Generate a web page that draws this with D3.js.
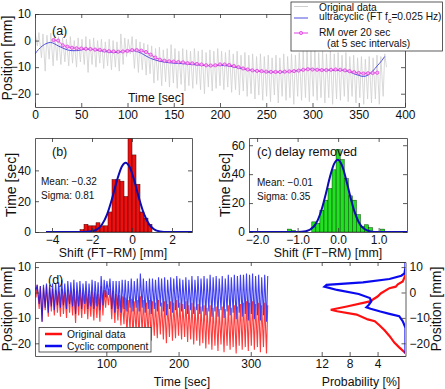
<!DOCTYPE html>
<html><head><meta charset="utf-8">
<script src="https://cdn.jsdelivr.net/npm/d3@7"></script>
<style>
body{margin:0;background:#fff;}
text{font-family:"Liberation Sans",Arial,Helvetica,sans-serif;fill:#111;}
</style></head><body>
<svg id="c" width="445" height="389"></svg>
<script>
// ---------- DATA ----------
// breathing trace: alternating peak / trough times [sec] and positions [mm]
const origT = [0.3,2.6,4.2,7.0,8.6,11.0,12.9,15.3,17.1,19.6,21.4,23.8,25.5,28.0,29.8,32.3,34.0,36.5,38.2,40.6,
42.4,44.9,46.6,49.1,50.8,53.3,55.0,57.4,59.2,61.7,63.4,65.9,67.6,70.1,71.8,74.3,76.0,78.5,80.2,82.7,
84.4,86.9,88.6,91.1,92.8,95.3,97.0,99.0,100.8,103.0,105.0,107.5,109.3,111.8,113.5,116.0,117.7,120.2,121.9,124.4,
126.1,128.6,130.3,132.8,134.5,137.0,138.7,141.2,142.9,145.4,147.1,149.6,151.3,153.8,155.5,158.0,159.7,162.2,163.9,166.4,
168.1,170.6,172.3,174.8,176.5,179.0,180.7,183.2,184.9,187.4,189.1,191.6,193.3,195.8,197.5,200.0,201.7,204.2,205.9,208.4,
210.1,212.6,214.3,216.8,218.5,221.0,222.7,225.2,226.9,229.4,231.1,233.6,235.3,237.8,239.5,242.0,243.7,246.2,247.9,250.4,
252.1,254.6,256.3,258.8,260.5,263.0,264.7,267.2,268.9,271.4,273.1,275.6,277.3,279.8,281.5,284.0,285.7,288.2,289.9,292.4,
294.1,296.6,298.3,300.8,302.5,305.0,306.7,309.2,310.9,313.4,315.1,317.6,319.3,321.8,323.5,326.0,327.7,330.2,331.9,334.4,
336.1,338.6,340.3,342.8,344.5,347.0,348.7,351.2,352.9,355.4,357.1,359.6,361.3,363.8,365.5,368.0,369.7,372.2,373.9,376.4,
378.1,380.0];
const origV = [2.5,-2.0,3.0,-6.5,2.5,-11.5,2.0,-7.0,2.8,-9.5,2.0,-7.5,1.5,-9.0,1.0,-8.0,0.5,-9.5,1.5,-8.5,
0.0,-10.0,1.0,-8.0,0.5,-9.0,1.5,-12.0,0.5,-9.0,1.0,-10.0,0.0,-8.5,0.5,-10.5,-0.5,-9.5,0.5,-11.0,
0.0,-10.0,-0.5,-11.5,2.5,-9.0,1.0,-6.0,0.5,-5.0,1.5,-10.5,0.5,-12.0,-0.5,-11.0,-1.0,-13.0,-1.5,-12.5,
-2.0,-16.0,-3.0,-15.0,-2.5,-17.0,-3.5,-15.5,-3.0,-17.5,-1.5,-16.0,-3.0,-18.0,-4.0,-16.5,-3.0,-19.0,-3.5,-17.0,
-4.0,-18.0,-3.0,-16.5,-4.0,-18.5,-3.5,-20.0,-4.5,-17.5,-3.5,-19.0,-4.0,-18.0,-3.0,-17.0,-4.0,-18.5,-4.5,-17.5,
-3.5,-19.5,-5.0,-18.5,-4.0,-20.5,-5.5,-19.0,-4.5,-21.0,-5.5,-20.0,-5.0,-22.0,-6.0,-20.5,-5.0,-22.5,-6.0,-21.0,
-5.5,-23.0,-6.5,-20.5,-5.5,-23.5,-6.5,-21.0,-5.0,-22.5,-6.0,-21.5,-5.0,-24.0,-5.5,-21.0,-4.5,-22.5,-4.0,-21.5,
-3.5,-23.0,-4.0,-21.0,-3.5,-22.5,-4.5,-21.5,-4.0,-23.5,-5.0,-21.5,-4.0,-24.0,-5.0,-22.0,-4.5,-22.5,-5.5,-21.0,
-4.5,-23.0,-6.0,-21.0,-5.5,-23.5,-6.5,-21.5,-6.0,-24.0,-7.0,-22.0,-6.0,-23.5,-6.5,-22.0,-5.5,-24.0,-6.0,-21.0,
-5.0,-10.0];
// cyclic component (same times, up to 324 s)
const cycV = [2.5,1.0,3.0,-4.5,2.5,-11.5,3.0,-6.0,3.5,-8.0,3.0,-5.5,3.5,-7.0,3.5,-5.0,4.0,-6.0,5.0,-5.0,
3.5,-6.5,4.5,-4.5,4.0,-5.5,5.0,-8.5,4.0,-5.5,4.5,-6.5,3.5,-4.5,4.5,-6.5,3.5,-5.5,5.0,-6.5,
4.5,-5.5,4.0,-7.0,6.5,-5.0,5.0,-2.0,4.5,-1.0,5.5,-6.5,4.5,-8.0,4.5,-6.5,4.5,-8.0,5.0,-6.5,
5.0,-7.5,4.5,-6.0,5.5,-7.5,4.5,-6.0,5.5,-7.5,7.5,-6.0,5.5,-8.0,4.5,-6.5,5.5,-8.5,5.5,-6.5,
5.0,-7.5,6.0,-5.5,5.5,-7.5,6.0,-9.0,5.0,-6.5,6.0,-8.0,5.5,-7.0,6.5,-6.0,5.5,-7.5,5.0,-6.5,
6.0,-8.5,5.0,-7.0,6.5,-8.5,5.0,-7.0,6.5,-8.5,5.5,-7.5,6.5,-9.0,5.5,-7.5,7.0,-9.5,6.0,-7.5,
6.5,-9.5,5.5,-7.0,6.5,-10.0,5.5,-7.5,7.0,-9.0,6.0,-8.0,7.0,-10.5,6.5,-8.0,7.0,-9.5,7.0,-8.5,
7.5,-11.0,7.0,-8.5,7.5,-10.5,6.5,-9.0,7.0,-11.0,6.0,-9.0,7.0,-11.5,6.5];
// ultracyclic (FT low-pass) trend
const ucT = [0,4,8,13,17,21,25,30,35,40,45,50,55,60,65,70,75,80,85,90,95,100,105,110,115,120,125,130,135,140,
150,160,170,180,190,200,210,220,230,240,250,260,270,280,290,295,300,310,320,330,340,345,350,355,360,365,370,375,378];
const ucV = [-5,-3.3,-2,-1,-0.7,-1.2,-2,-2.8,-3.5,-3.8,-3.8,-3.5,-3.3,-3.3,-3.5,-3.8,-4.1,-4.3,-4.5,-4.4,
-4.1,-3.9,-3.8,-4.1,-4.8,-5.8,-6.7,-7.3,-7.8,-8.1,-8.5,-8.7,-9.0,-9.3,-9.5,-9.3,-9.6,-10.3,-11.0,-11.5,
-11.8,-11.9,-11.8,-11.5,-11,-10.8,-10.8,-11,-11.2,-11.2,-11.8,-12.5,-13.1,-13.5,-13,-11.5,-9.5,-7.5,-6];
// running mean over 20 s at 5 s intervals
const rmT = [20,25,30,35,40,45,50,55,60,65,70,75,80,85,90,95,100,105,110,115,120,125,130,135,140,145,150,155,160,165,
170,175,180,185,190,195,200,205,210,215,220,225,230,235,240,245,250,255,260,265,270,275,280,285,290,295,300,305,310,315,
320,325,330,335,340,345,350,355,360,365,370];
const rmV = [0.2,0.0,-1.8,-2.3,-2.7,-2.9,-3.0,-3.1,-3.2,-3.4,-3.5,-3.8,-4.0,-4.1,-4.2,-4.1,-3.9,-3.6,-3.6,-3.8,
-4.3,-5.3,-6.4,-7.2,-7.6,-7.8,-7.9,-8.1,-8.2,-8.5,-8.6,-8.8,-9.0,-9.3,-9.4,-9.3,-9.0,-9.0,-9.2,-9.6,
-10.0,-10.5,-10.9,-11.2,-11.4,-11.5,-11.7,-11.8,-11.8,-11.8,-11.7,-11.6,-11.5,-11.3,-11.0,-10.8,-10.9,-11.0,-11.1,-11.1,
-11.0,-10.9,-11.0,-11.2,-11.5,-11.9,-12.2,-12.4,-12.3,-12.2,-12.1];
// (b) histogram of shift FT-RM
const binWB = 0.2;
const binCB = [-2.5,-2.3,-2.1,-1.9,-1.7,-1.5,-1.3,-1.1,-0.9,-0.7,-0.5,-0.3,-0.1,0.1,0.3,0.5,0.7,0.9];
const cntB  = [1.5,5,4,4,6,4,4,13,34,34,33,23,62,50,31,13,9,5];
const fitBX = [-4.3,-2.5,-2.0,-1.75,-1.5,-1.25,-1.0,-0.75,-0.5,-0.32,-0.1,0.1,0.35,0.6,0.85,1.1,1.4,1.8,3.0];
const fitBY = [0,0.02,0.5,1.7,4.9,11.3,21.5,33.5,42.7,45,41.7,34,22,11.7,5.1,1.8,0.4,0.03,0];
// (c) histogram, delay removed
const binWC = 0.1;
const binCC = [-1.2,-1.1,-0.6,-0.5,-0.4,-0.3,-0.2,-0.1,0,0.1,0.2,0.3,0.4,0.5,0.6,0.7,0.8,1.1];
const cntC  = [2,1,7,6,15,22,30,43,57,50,37,25,22,12,4,5,3,2];
const fitCX = [-2.2,-1.0,-0.8,-0.6,-0.5,-0.4,-0.3,-0.2,-0.1,-0.01,0.1,0.2,0.3,0.4,0.5,0.6,0.8,1.0,1.7];
const fitCY = [0,0,0.5,3.8,8.4,16.2,26.8,38.3,47.1,50,45.7,36,24.5,14.4,7.3,3.2,0.4,0,0];
// (d) position distributions
const pdBluePos = [12,10,7.5,6.6,5.3,4.0,3.0,2.3,1.0,-0.6,-2.2,-3.5,-5.0,-5.8,-6.4,-7.5,-8.4,-9.3,-11.3,-13.9,-18,-24];
const pdBlueP   = [0,0,0.15,0.6,2.3,6.1,11.3,11.6,9.8,6.7,5.1,4.9,5.3,5.6,5.0,3.6,2.3,0.9,0.4,0,0,0];
const pdRedPos  = [7.5,6.9,4.3,3.2,2.3,1.7,-0.3,-1.6,-3.5,-5.5,-6.8,-7.4,-8.7,-10.6,-11.3,-13,-14.9,-17.1,-19.7,-21.6,-23.6,-24];
const pdRedP    = [0,0,0.4,1.1,1.4,2.3,3.5,4,5.1,8.4,10.7,9.8,7,5.4,4.4,3.7,3,2.3,1.6,0.9,0.1,0];
// tick values
const ticksAX = [0,50,100,150,200,250,300,350,400], ticksAY = [-20,-10,0,10];
const ticksBX = [-4,-2,0,2], ticksBY = [0,20,40];
const ticksCX = [-2,-1,0,1], ticksCY = [0,20,40,60];
const ticksDX = [100,200,300], ticksDY = [-20,-10,0,10], ticksPX = [12,8,4];

// ---------- DRAW ----------
const svg = d3.select('#c');
const FR = '#333';
const TFS = 12;
let clipId = 0;
function clip(x0,y0,x1,y1){
  const id='cl'+(clipId++);
  svg.append('clipPath').attr('id',id).append('rect').attr('x',x0).attr('y',y0).attr('width',x1-x0).attr('height',y1-y0);
  return 'url(#'+id+')';
}
function styleAxis(sel){
  sel.selectAll('path.domain').attr('stroke',FR).attr('stroke-width',0.8);
  sel.selectAll('.tick line').attr('stroke',FR).attr('stroke-width',0.8);
  sel.selectAll('.tick text').attr('font-size',TFS).attr('fill','#111')
     .attr('font-family','"Liberation Sans",Arial,sans-serif');
}
function frame(x,y,xt,yt,o){
  o=o||{};
  const [l,r]=d3.extent(x.range()), [t,b]=d3.extent(y.range());
  const g=svg.append('g');
  g.append('g').attr('transform',`translate(0,${b})`).call(d3.axisBottom(x).tickValues(xt).tickSizeInner(-4).tickSizeOuter(0).tickPadding(3.5)).call(styleAxis);
  g.append('g').attr('transform',`translate(0,${t})`).call(d3.axisTop(x).tickValues(xt).tickSizeInner(-4).tickSizeOuter(0).tickFormat('')).call(styleAxis);
  g.append('g').attr('transform',`translate(${l},0)`).call(d3.axisLeft(y).tickValues(yt).tickSizeInner(-4).tickSizeOuter(0).tickPadding(4)).call(styleAxis);
  if(!o.noRight) g.append('g').attr('transform',`translate(${r},0)`).call(d3.axisRight(y).tickValues(yt).tickSizeInner(-4).tickSizeOuter(0).tickFormat('')).call(styleAxis);
  return g;
}
function txt(x,y,s,fs,anchor,rot){
  const t=svg.append('text').attr('x',x).attr('y',y).attr('font-size',fs).attr('text-anchor',anchor||'start').text(s);
  if(rot) t.attr('transform',`rotate(-90,${x},${y})`);
  return t;
}

// ----- panel (a)
const xA=d3.scaleLinear().domain([0,400]).range([35,405]);
const yA=d3.scaleLinear().domain([-25,10]).range([107,14]);
const gA=svg.append('g').attr('clip-path',clip(35,14,405,107));
gA.append('path').datum(origT.map((t,i)=>[t,origV[i]]))
  .attr('d',d3.line().x(d=>xA(d[0])).y(d=>yA(d[1]))).attr('fill','none').attr('stroke','#cfcfcf').attr('stroke-width',0.8);
gA.append('path').datum(ucT.map((t,i)=>[t,ucV[i]]))
  .attr('d',d3.line().curve(d3.curveMonotoneX).x(d=>xA(d[0])).y(d=>yA(d[1]))).attr('fill','none').attr('stroke','#4f4fe0').attr('stroke-width',1);
gA.append('path').datum(rmT.map((t,i)=>[t,rmV[i]]))
  .attr('d',d3.line().x(d=>xA(d[0])).y(d=>yA(d[1]))).attr('fill','none').attr('stroke','#e040e0').attr('stroke-width',1);
gA.selectAll('circle.rm').data(rmT.map((t,i)=>[t,rmV[i]])).enter().append('circle')
  .attr('cx',d=>xA(d[0])).attr('cy',d=>yA(d[1])).attr('r',1.6).attr('fill','#f6b0f6').attr('stroke','#e040e0').attr('stroke-width',0.8);
frame(xA,yA,ticksAX,ticksAY);
txt(52,35,'(a)',12.5);
txt(128,101.5,'Time [sec]',12.3);
txt(12,58,'Position [mm]',14,'middle',true);
// legend (a)
svg.append('rect').attr('x',291).attr('y',2).attr('width',151.5).attr('height',49).attr('fill','#fff').attr('stroke',FR).attr('stroke-width',0.8);
svg.append('line').attr('x1',294).attr('x2',308).attr('y1',6.5).attr('y2',6.5).attr('stroke','#cfcfcf').attr('stroke-width',1);
svg.append('line').attr('x1',294).attr('x2',308).attr('y1',18).attr('y2',18).attr('stroke','#4f4fe0').attr('stroke-width',1);
svg.append('line').attr('x1',294).attr('x2',308).attr('y1',33).attr('y2',33).attr('stroke','#e040e0').attr('stroke-width',1);
svg.append('circle').attr('cx',301).attr('cy',33).attr('r',1.6).attr('fill','#f6b0f6').attr('stroke','#e040e0').attr('stroke-width',0.8);
txt(319,10.5,'Original data',10.2);
const ul=txt(319,20,'ultracyclic (FT f',10.2);
ul.append('tspan').attr('dy',2.5).attr('font-size',7).text('c');
ul.append('tspan').attr('dy',-2.5).text('=0.025 Hz)');
txt(319,36,'RM over 20 sec',10.2);
txt(327,46.5,'(at 5 sec intervals)',10.2);

// ----- panel (b)
const xB=d3.scaleLinear().domain([-4.85,3]).range([35,192]);
const yB=d3.scaleLinear().domain([0,61]).range([232,138]);
const gB=svg.append('g').attr('clip-path',clip(35,138,192,232));
gB.selectAll('rect').data(binCB.map((c,i)=>[c,cntB[i]])).enter().append('rect')
  .attr('x',d=>xB(d[0]-binWB/2)).attr('width',d=>xB(d[0]+binWB/2)-xB(d[0]-binWB/2))
  .attr('y',d=>yB(d[1])).attr('height',d=>yB(0)-yB(d[1]))
  .attr('fill','#ee1010').attr('stroke','#400000').attr('stroke-width',0.5);
gB.append('path').datum(fitBX.map((x,i)=>[x,fitBY[i]]))
  .attr('d',d3.line().curve(d3.curveMonotoneX).x(d=>xB(d[0])).y(d=>yB(d[1]))).attr('fill','none').attr('stroke','#0c0cb0').attr('stroke-width',2);
frame(xB,yB,ticksBX,ticksBY);
txt(52,156,'(b)',12.5);
txt(41,185,'Mean:  \u22120.32',10);
txt(41,199,'Sigma: 0.81',10);
txt(113,256.5,'Shift (FT\u2212RM) [mm]',12.3,'middle');
txt(15.5,185,'Time [sec]',14,'middle',true);

// ----- panel (c)
const xC=d3.scaleLinear().domain([-2.2,1.7]).range([249,407]);
const yC=d3.scaleLinear().domain([0,65]).range([232,138]);
const gC=svg.append('g').attr('clip-path',clip(249,138,407,232));
gC.selectAll('rect').data(binCC.map((c,i)=>[c,cntC[i]])).enter().append('rect')
  .attr('x',d=>xC(d[0]-binWC/2)).attr('width',d=>xC(d[0]+binWC/2)-xC(d[0]-binWC/2))
  .attr('y',d=>yC(d[1])).attr('height',d=>yC(0)-yC(d[1]))
  .attr('fill','#22e022').attr('stroke','#004000').attr('stroke-width',0.5);
gC.append('path').datum(fitCX.map((x,i)=>[x,fitCY[i]]))
  .attr('d',d3.line().curve(d3.curveMonotoneX).x(d=>xC(d[0])).y(d=>yC(d[1]))).attr('fill','none').attr('stroke','#0c0cb0').attr('stroke-width',2);
frame(xC,yC,ticksCX,ticksCY);
txt(257,156,'(c)  delay removed',12.5);
txt(257,186,'Mean:  \u22120.01',10);
txt(257,199.5,'Sigma: 0.35',10);
txt(328,256.5,'Shift (FT\u2212RM) [mm]',12.3,'middle');
txt(230,185,'Time [sec]',14,'middle',true);

// ----- panel (d)
const xD=d3.scaleLinear().domain([1.2,513.6]).range([35,405]);
const yD=d3.scaleLinear().domain([-25,12]).range([356,262]);
const xP=d3.scaleLinear().domain([0,12]).range([405.5,321.7]);
const gD=svg.append('g').attr('clip-path',clip(35,262,405,356));
const nD=cycV.length;
gD.append('path').datum(d3.range(nD).map(i=>[origT[i],origV[i]]))
  .attr('d',d3.line().x(d=>xD(d[0])).y(d=>yD(d[1]))).attr('fill','none').attr('stroke','#ff1a1a').attr('stroke-width',1.1).attr('stroke-opacity',0.85);
gD.append('path').datum(d3.range(nD).map(i=>[origT[i],cycV[i]]))
  .attr('d',d3.line().x(d=>xD(d[0])).y(d=>yD(d[1]))).attr('fill','none').attr('stroke','#1010ee').attr('stroke-width',1.1).attr('stroke-opacity',0.8);
gD.append('path').datum(pdRedPos.map((p,i)=>[pdRedP[i],p]))
  .attr('d',d3.line().x(d=>xP(d[0])).y(d=>yD(d[1]))).attr('fill','none').attr('stroke','#ff1010').attr('stroke-width',2.2);
gD.append('path').datum(pdBluePos.map((p,i)=>[pdBlueP[i],p]))
  .attr('d',d3.line().x(d=>xP(d[0])).y(d=>yD(d[1]))).attr('fill','none').attr('stroke','#0a0af0').attr('stroke-width',2.2);
frame(xD,yD,ticksDX,ticksDY,{noRight:true});
// probability axes (reversed x, y labels on right)
svg.append('g').attr('transform','translate(0,356)').call(d3.axisBottom(xP).tickValues(ticksPX).tickSizeInner(-4).tickSizeOuter(0).tickPadding(3.5)).call(styleAxis);
svg.append('g').attr('transform','translate(0,262)').call(d3.axisTop(xP).tickValues(ticksPX).tickSizeInner(-4).tickSizeOuter(0).tickFormat('')).call(styleAxis);
svg.append('g').attr('transform','translate(405.5,0)').call(d3.axisRight(yD).tickValues(ticksDY).tickSizeInner(-4).tickSizeOuter(0).tickPadding(4)).call(styleAxis);
txt(48,284,'(d)',12.5);
txt(182,386,'Time [sec]',12.3,'middle');
txt(361,386,'Probability [%]',12.3,'middle');
txt(11.5,309,'Position [mm]',14,'middle',true);
txt(441,309,'Position [mm]',14,'middle',true);
// legend (d)
svg.append('rect').attr('x',39).attr('y',327.5).attr('width',112).attr('height',24.5).attr('fill','#fff').attr('stroke',FR).attr('stroke-width',0.8);
svg.append('line').attr('x1',45).attr('x2',62).attr('y1',334).attr('y2',334).attr('stroke','#ff1010').attr('stroke-width',2.5);
svg.append('line').attr('x1',45).attr('x2',62).attr('y1',346).attr('y2',346).attr('stroke','#0a0af0').attr('stroke-width',2.5);
txt(67,338,'Original data',10.3);
txt(67,350,'Cyclic component',10.3);
</script>
</body></html>
